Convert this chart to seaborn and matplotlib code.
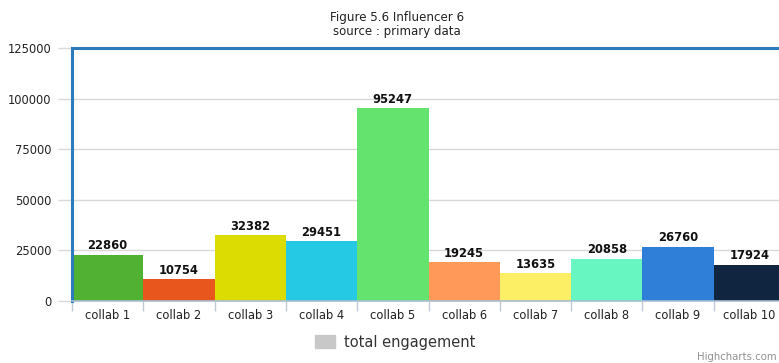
import matplotlib
matplotlib.use("Agg")
import matplotlib.pyplot as plt
import matplotlib.patches as mpatches
import seaborn as sns
import numpy as np
import pandas as pd

# Engagement per collaboration
categories = ["collab 1", "collab 2", "collab 3", "collab 4", "collab 5",
              "collab 6", "collab 7", "collab 8", "collab 9", "collab 10"]
engagement = [22860, 10754, 32382, 29451, 95247, 19245, 13635, 20858, 26760, 17924]
bar_colors = ["#50b133", "#e8561e", "#dcdc02", "#25c9e3", "#64e46f",
              "#ff995a", "#fcef66", "#67f5c1", "#2f7fd8", "#0f2540"]
y_ticks = [0, 25000, 50000, 75000, 100000, 125000]

df = pd.DataFrame({"collab": categories, "engagement": engagement})

sns.set_theme(style="white")
plt.rcParams["font.family"] = ["DejaVu Sans"]

fig = plt.figure(figsize=(7.79, 3.63), dpi=100)
ax = fig.add_axes([72 / 779, 1 - 301 / 363, 713 / 779, 253 / 363])

sns.barplot(data=df, x="collab", y="engagement", hue="collab",
            palette=bar_colors, width=1.0, legend=False, ax=ax,
            saturation=1, edgecolor="none", linewidth=0)

ax.set_xlim(-0.5, len(categories) - 0.5)
ax.set_ylim(0, 125000)
ax.set_yticks(y_ticks)
ax.set_yticklabels([str(t) for t in y_ticks], fontsize=8.3, color="#222222")
ax.set_xlabel("")
ax.set_ylabel("")

# grid lines behind bars
ax.set_axisbelow(True)
ax.yaxis.grid(True, color="#d8d8d8", linewidth=1)
ax.xaxis.grid(False)

# y tick marks extending left of the axis
ax.tick_params(axis="y", length=10, width=1, color="#d8d8d8", pad=5, left=True)

# x labels centered, tick marks at category boundaries
ax.set_xticks(range(len(categories)))
ax.set_xticklabels(categories, fontsize=8.3, color="#222222")
ax.set_xticks(np.arange(len(categories) + 1) - 0.5, minor=True)
ax.tick_params(axis="x", which="major", length=0, pad=6)
ax.tick_params(axis="x", which="minor", length=7, width=1, color="#c0cad6",
               bottom=True)

# plot frame
for side in ["left", "top"]:
    ax.spines[side].set_color("#2b7bbd")
    ax.spines[side].set_linewidth(2.2)
ax.spines["right"].set_visible(False)
ax.spines["bottom"].set_color("#a9bed3")
ax.spines["bottom"].set_linewidth(1.2)

# value labels above bars
for i, v in enumerate(engagement):
    ax.text(i, v + 1200, str(v), ha="center", va="bottom",
            fontsize=8.3, fontweight="bold", color="#111111")

# titles
fig.text(397 / 779, 1 - 17 / 363, "Figure 5.6 Influencer 6", ha="center",
         va="center", fontsize=8.6, color="#222222")
fig.text(397 / 779, 1 - 32 / 363, "source : primary data", ha="center",
         va="center", fontsize=8.5, color="#222222")

# legend
handle = mpatches.Patch(color="#c8c8c8", label="total engagement")
fig.legend(handles=[handle], loc="center", bbox_to_anchor=(395 / 779, 1 - 342 / 363),
           frameon=False, fontsize=10.5, handlelength=1.4, handleheight=0.9,
           handletextpad=0.6, labelcolor="#333333")

fig.text(777 / 779, 1 - 357 / 363, "Highcharts.com", ha="right", va="center",
         fontsize=7.3, color="#909090")

fig.savefig("out.png", dpi=100)
